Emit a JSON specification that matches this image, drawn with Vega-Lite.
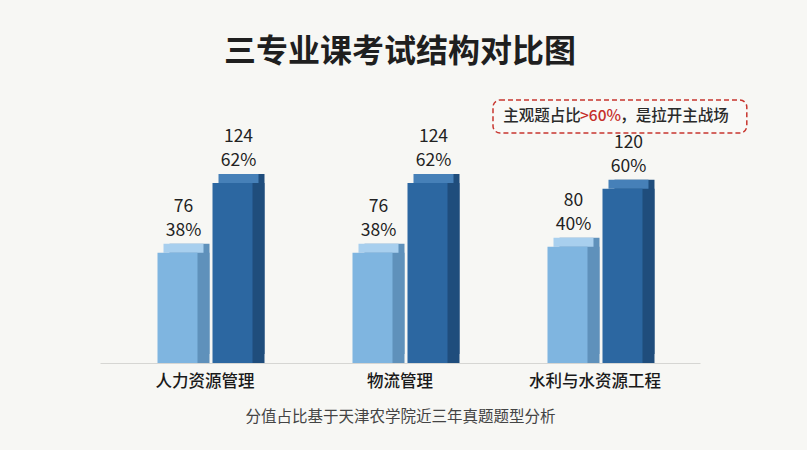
{
  "$schema": "https://vega.github.io/schema/vega-lite/v6.json",
  "width": 600,
  "height": 273,
  "autosize": "none",
  "padding": {"left": 100, "top": 90, "right": 107, "bottom": 87},
  "background": "#f7f7f4",
  "title": {
    "text": "三专业课考试结构对比图",
    "fontSize": 32,
    "fontWeight": "bold",
    "color": "#1f1f1f",
    "anchor": "middle",
    "offset": 21
  },
  "datasets": {
    "scores": [
      {"group": "人力资源管理", "type": "客观题", "value": 76, "pct": "38%"},
      {"group": "人力资源管理", "type": "主观题", "value": 124, "pct": "62%"},
      {"group": "物流管理", "type": "客观题", "value": 76, "pct": "38%"},
      {"group": "物流管理", "type": "主观题", "value": 124, "pct": "62%"},
      {"group": "水利与水资源工程", "type": "客观题", "value": 80, "pct": "40%"},
      {"group": "水利与水资源工程", "type": "主观题", "value": 120, "pct": "60%"}
    ],
    "note": [
      {"seg": "主观题占比", "x": 67.2, "y": 169.8},
      {"seg": ">60%", "x": 80, "y": 169.8},
      {"seg": "，是拉开主战场", "x": 86.7, "y": 169.8}
    ],
    "box": [
      {"x1": 65.5, "x2": 107.8, "y1": 158.4, "y2": 181.1}
    ]
  },
  "resolve": {"scale": {"x": "independent"}},
  "layer": [
    {
      "data": {"name": "scores"},
      "encoding": {
        "x": {
          "field": "group",
          "type": "nominal",
          "sort": null,
          "scale": {"paddingInner": 0, "paddingOuter": 0.0385},
          "axis": {
            "title": "分值占比基于天津农学院近三年真题题型分析",
            "labelAngle": 0,
            "labelFontSize": 16.5,
            "labelFontWeight": 500,
            "labelColor": "#1a1a1a",
            "labelPadding": 10,
            "ticks": false,
            "domainColor": "#d6d6d3",
            "titleFontSize": 15.5,
            "titleFontWeight": "normal",
            "titleColor": "#444444",
            "titlePadding": 20
          }
        },
        "y": {"field": "value", "type": "quantitative", "scale": {"domain": [0, 188], "nice": false}, "axis": null}
      },
      "layer": [
        {
          "transform": [{"filter": "datum.type === '客观题'"}],
          "layer": [
            {
              "mark": {"type": "bar", "width": 40, "xOffset": -15.5, "yOffset": -9, "color": "#5f91bb"}
            },
            {
              "mark": {"type": "bar", "width": 40, "xOffset": -15.5, "color": "#5f91bb"}
            },
            {
              "mark": {"type": "bar", "width": 40, "xOffset": -21.5, "yOffset": -9, "y2Offset": 0, "color": "#a8cfee"},
              "encoding": {"y2": {"field": "value"}}
            },
            {
              "mark": {"type": "bar", "width": 40, "xOffset": -27.5, "color": "#7fb5e0"}
            },
            {
              "mark": {"type": "text", "fontSize": 17.5, "color": "#222222", "xOffset": -21.5, "dy": -41, "baseline": "alphabetic"},
              "encoding": {"text": {"field": "value"}}
            },
            {
              "mark": {"type": "text", "fontSize": 17.5, "color": "#222222", "xOffset": -21.5, "dy": -17, "baseline": "alphabetic"},
              "encoding": {"text": {"field": "pct"}}
            }
          ]
        },
        {
          "transform": [{"filter": "datum.type === '主观题'"}],
          "layer": [
            {
              "mark": {"type": "bar", "width": 40, "xOffset": 39.5, "yOffset": -9, "color": "#1f4d7c"}
            },
            {
              "mark": {"type": "bar", "width": 40, "xOffset": 39.5, "color": "#1f4d7c"}
            },
            {
              "mark": {"type": "bar", "width": 40, "xOffset": 33.5, "yOffset": -9, "y2Offset": 0, "color": "#4680b8"},
              "encoding": {"y2": {"field": "value"}}
            },
            {
              "mark": {"type": "bar", "width": 40, "xOffset": 27.5, "color": "#2c67a1"}
            },
            {
              "mark": {"type": "text", "fontSize": 17.5, "color": "#222222", "xOffset": 33.5, "dy": -41, "baseline": "alphabetic"},
              "encoding": {"text": {"field": "value"}}
            },
            {
              "mark": {"type": "text", "fontSize": 17.5, "color": "#222222", "xOffset": 33.5, "dy": -17, "baseline": "alphabetic"},
              "encoding": {"text": {"field": "pct"}}
            }
          ]
        }
      ]
    },
    {
      "layer": [
        {
          "data": {"name": "box"},
          "mark": {"type": "rect", "fill": "#f9f9f7", "stroke": "#c8362f", "strokeWidth": 1.5, "strokeDash": [5, 3], "cornerRadius": 7},
          "encoding": {
            "x": {"field": "x1", "type": "quantitative", "scale": {"domain": [0, 100]}, "axis": null},
            "x2": {"field": "x2"},
            "y": {"field": "y1", "type": "quantitative", "scale": {"domain": [0, 188], "nice": false}, "axis": null},
            "y2": {"field": "y2"}
          }
        },
        {
          "data": {"name": "note"},
          "mark": {"type": "text", "align": "left", "baseline": "middle", "fontSize": 15.5, "fontWeight": 500},
          "encoding": {
            "x": {"field": "x", "type": "quantitative"},
            "y": {"field": "y", "type": "quantitative"},
            "text": {"field": "seg"},
            "color": {
              "condition": {"test": "datum.seg === '>60%'", "value": "#c62f2a"},
              "value": "#2a2a2a"
            }
          }
        }
      ]
    }
  ],
  "config": {
    "font": "Noto Sans CJK SC",
    "view": {"stroke": null}
  }
}
